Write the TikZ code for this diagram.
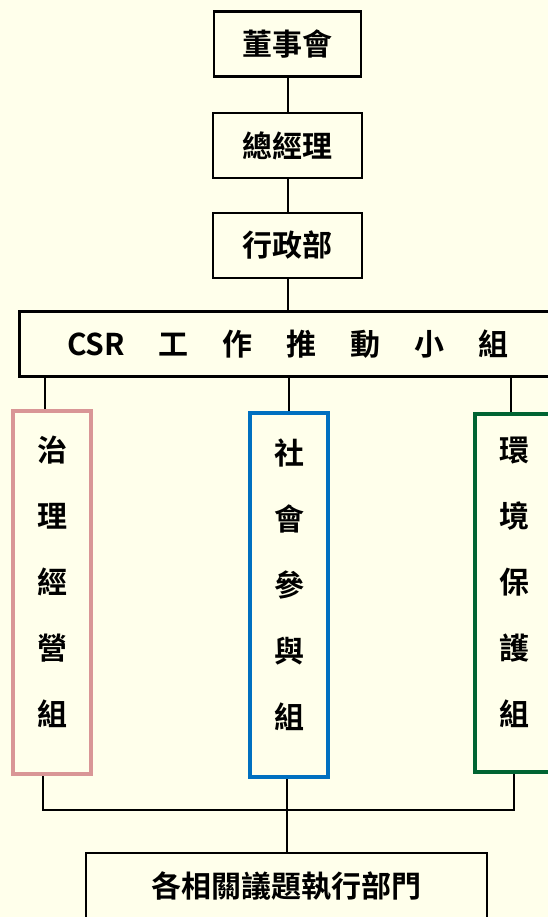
\documentclass[tikz,border=0pt]{standalone}
\usepackage{fontspec}
\setmainfont{Noto Sans CJK TC}[BoldFont={Noto Sans CJK TC Bold}]

\definecolor{paper}{RGB}{255,255,235}
\definecolor{govpink}{RGB}{217,150,150}
\definecolor{socblue}{RGB}{0,112,192}
\definecolor{envgreen}{RGB}{0,100,50}

% text set one character per line inside a group box
\newcommand\grouptext[1]{\parbox[c][313pt][t]{36pt}{\centering\fontsize{30}{66}\selectfont #1}}

\begin{document}
\begin{tikzpicture}[
        x=1pt, y=-1pt,
        every node/.style={font=\fontsize{30}{36}\selectfont\bfseries},
        unit/.style={draw, rectangle, line width=2.5pt, fill=paper, inner sep=0pt},% black unit box
        group/.style={draw=#1, rectangle, line width=4pt, fill=paper, inner sep=0pt,
            minimum width=78pt},% coloured working group
        link/.style={line width=2pt},% connector
    ]
        \fill[paper] (0,0) rectangle (548,917);
        \useasboundingbox (0,0) rectangle (548,917);
        \clip (0,0) rectangle (548,917);

        \node [unit, minimum width=147pt, minimum height=65pt] (board) at (287.5,44) {董事會};
        \node [unit, minimum width=149pt, minimum height=65pt] (gm) at (287.5,145.5) {總經理};
        \node [unit, minimum width=149pt, minimum height=65pt] (admin) at (287.5,245.5) {行政部};
        \node [unit, minimum width=537pt, minimum height=65pt] (csr) at (288,344)
            {CSR\hspace{34pt}工\hspace{34pt}作\hspace{34pt}推\hspace{34pt}動\hspace{34pt}小\hspace{34pt}組};

        \node [group=govpink, minimum height=363pt] (gov) at (52,592.5) {\grouptext{治\\理\\經\\營\\組}};
        \node [group=socblue, minimum height=364pt] (soc) at (289,595) {\grouptext{社\\會\\參\\與\\組}};
        \node [group=envgreen, minimum height=358pt] (env) at (514,593) {\grouptext{環\\境\\保\\護\\組}};

        \node [unit, minimum width=401pt, minimum height=66pt] (dept) at (286.5,886) {各相關議題執行部門};

        \draw [link] (board) -- (gm);
        \draw [link] (gm) -- (admin);
        \draw [link] (admin) -- (admin |- csr.north);

        \draw [link] ([xshift=-7pt]gov.north) -- ([xshift=-7pt]gov.north |- csr.south);
        \draw [link] (soc.north) -- (soc.north |- csr.south);
        \draw [link] ([xshift=-3pt]env.north) -- ([xshift=-3pt]env.north |- csr.south);

        \coordinate (bus) at (287,810);
        \draw [link] ([xshift=-9pt]gov.south) |- (bus) -| (env.south);
        \draw [link] (dept.north) -- (dept.north |- soc.south);
    \end{tikzpicture}
\end{document}
